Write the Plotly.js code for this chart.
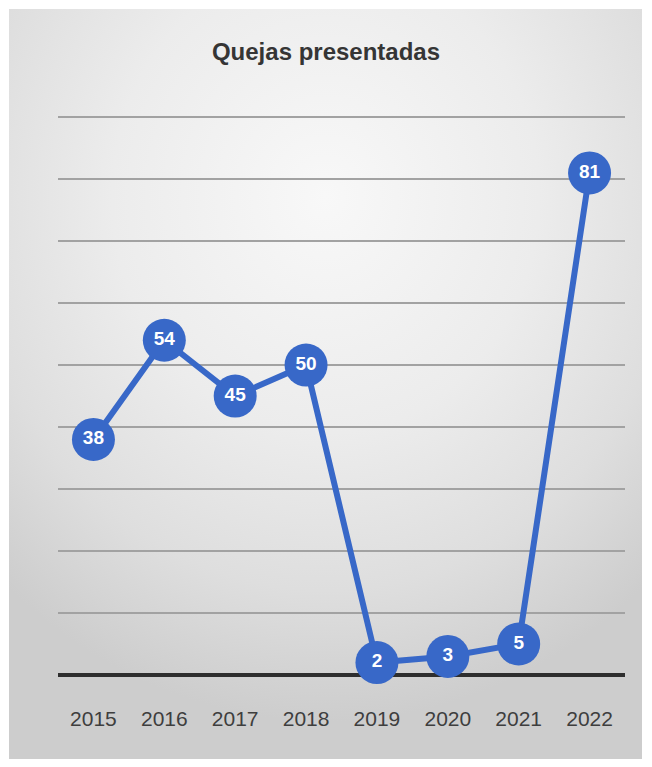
<!DOCTYPE html>
<html>
<head>
<meta charset="utf-8">
<script src="https://cdn.plot.ly/plotly-3.0.1.min.js"></script>
<style>
  html, body { margin: 0; padding: 0; background: #ffffff; }
  #wrap { position: absolute; left: 0; top: 0; width: 652px; height: 767px; background: #ffffff; }
  #bg { position: absolute; left: 9px; top: 9px; width: 633px; height: 750px;
        background: radial-gradient(ellipse 75% 70% at 50% 25%, #f8f8f8 0%, #ececec 45%, #dedede 75%, #cdcdcd 100%); }
  #chart { position: absolute; left: 0; top: 0; width: 652px; height: 767px; }
</style>
</head>
<body>
<div id="wrap"><div id="bg"></div><div id="chart"></div></div>
<script>
const years = ['2015', '2016', '2017', '2018', '2019', '2020', '2021', '2022'];
const quejas = [38, 54, 45, 50, 2, 3, 5, 81];
const chartTitle = 'Quejas presentadas';

const trace = {
  type: 'scatter',
  mode: 'lines+markers+text',
  x: years,
  y: quejas,
  text: quejas.map(String),
  textposition: 'middle center',
  textfont: { family: 'Liberation Sans, Arial, sans-serif', size: 19, color: '#ffffff', weight: 'bold' },
  line: { color: '#3868c8', width: 6 },
  marker: { size: 43, color: '#3868c8', line: { width: 0 } },
  cliponaxis: false,
  hoverinfo: 'skip'
};

const layout = {
  width: 652,
  height: 767,
  paper_bgcolor: 'rgba(0,0,0,0)',
  plot_bgcolor: 'rgba(0,0,0,0)',
  margin: { l: 58, r: 27, t: 114, b: 92 },
  showlegend: false,
  title: {
    text: '<b>' + chartTitle + '</b>',
    x: 0.5, xanchor: 'center', y: 1 - 52 / 767, yanchor: 'middle',
    font: { family: 'Liberation Sans, Arial, sans-serif', size: 24, color: '#353535' }
  },
  xaxis: {
    type: 'category',
    range: [-0.5, 7.5],
    showgrid: false,
    showline: false,
    zeroline: false,
    ticks: '',
    ticklabelstandoff: 29,
    tickfont: { family: 'Liberation Sans, Arial, sans-serif', size: 21, color: '#3e3e3e' },
    fixedrange: true
  },
  yaxis: {
    range: [0, 90.5],
    tickvals: [0, 10, 20, 30, 40, 50, 60, 70, 80, 90],
    showticklabels: false,
    ticks: '',
    showgrid: true,
    gridcolor: '#a2a2a2',
    gridwidth: 2,
    zeroline: true,
    zerolinecolor: '#2e2e2e',
    zerolinewidth: 4,
    showline: false,
    fixedrange: true
  }
};

Plotly.newPlot('chart', [trace], layout, { displayModeBar: false, staticPlot: true });
</script>
</body>
</html>
